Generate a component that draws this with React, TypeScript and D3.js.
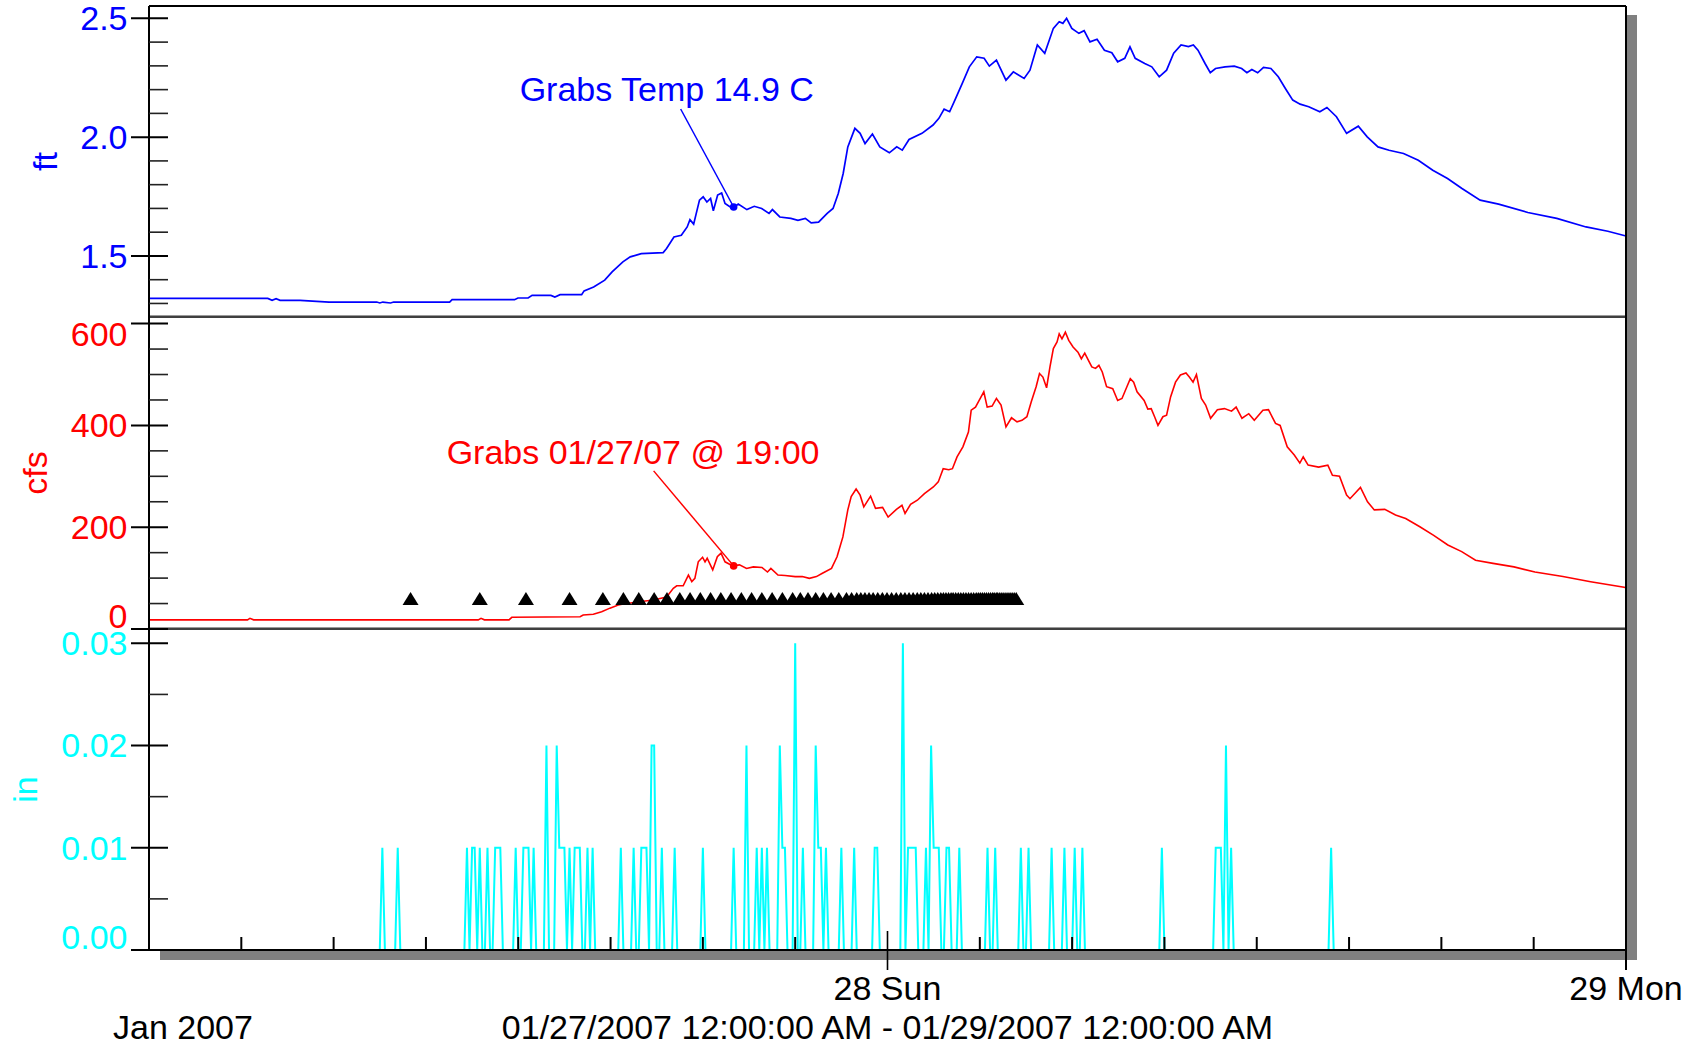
import React from 'react';
import * as d3 from 'd3';

const W = 1694, H = 1049;
const T0 = new Date(2007, 0, 27);
const T1 = new Date(2007, 0, 29);

// stage, hours after 01/27/2007 00:00
const stageHours = [0, 3.86, 4.0, 4.13, 4.26, 4.91, 5.85, 7.4, 7.5, 7.6, 7.85, 7.95, 9.77, 9.85, 11.88, 11.99, 12.32, 12.45, 13.06, 13.19, 13.36, 14.06, 14.14, 14.45, 14.81, 15.05, 15.4, 15.64, 16.0, 16.71, 16.82, 17.06, 17.3, 17.49, 17.58, 17.7, 17.89, 18.01, 18.13, 18.25, 18.34, 18.48, 18.61, 18.72, 18.96, 19.15, 19.43, 19.67, 19.91, 20.15, 20.26, 20.5, 20.86, 21.09, 21.33, 21.52, 21.76, 22.04, 22.23, 22.4, 22.56, 22.71, 22.94, 23.11, 23.27, 23.51, 23.75, 24.06, 24.3, 24.48, 24.7, 25.12, 25.48, 25.67, 25.84, 26.02, 26.19, 26.43, 26.66, 26.9, 27.14, 27.31, 27.54, 27.85, 28.09, 28.44, 28.63, 28.87, 29.11, 29.39, 29.58, 29.7, 29.82, 29.99, 30.22, 30.39, 30.58, 30.81, 31.05, 31.29, 31.48, 31.71, 31.88, 32.05, 32.36, 32.59, 32.83, 33.07, 33.3, 33.54, 33.78, 33.94, 34.09, 34.32, 34.49, 34.66, 34.97, 35.27, 35.51, 35.68, 35.84, 36.03, 36.22, 36.46, 36.7, 36.93, 37.17, 37.41, 37.69, 38.05, 38.28, 38.59, 38.92, 39.3, 39.59, 39.94, 40.3, 40.77, 41.25, 41.72, 42.2, 42.67, 43.26, 43.86, 44.81, 45.75, 46.7, 47.41, 48];
const stageFt = [1.321, 1.321, 1.313, 1.32, 1.313, 1.313, 1.306, 1.306, 1.302, 1.306, 1.302, 1.306, 1.306, 1.316, 1.316, 1.323, 1.323, 1.334, 1.334, 1.327, 1.337, 1.337, 1.353, 1.369, 1.398, 1.433, 1.475, 1.496, 1.51, 1.514, 1.531, 1.58, 1.587, 1.622, 1.653, 1.634, 1.735, 1.749, 1.727, 1.742, 1.69, 1.756, 1.765, 1.721, 1.7, 1.718, 1.695, 1.709, 1.7, 1.679, 1.695, 1.664, 1.658, 1.65, 1.658, 1.639, 1.642, 1.679, 1.7, 1.763, 1.847, 1.959, 2.037, 2.016, 1.973, 2.013, 1.959, 1.934, 1.959, 1.945, 1.99, 2.016, 2.051, 2.079, 2.118, 2.107, 2.156, 2.226, 2.296, 2.338, 2.332, 2.299, 2.324, 2.24, 2.275, 2.247, 2.282, 2.388, 2.353, 2.458, 2.486, 2.479, 2.5, 2.458, 2.437, 2.448, 2.401, 2.412, 2.366, 2.355, 2.317, 2.332, 2.38, 2.332, 2.31, 2.296, 2.254, 2.282, 2.353, 2.388, 2.381, 2.388, 2.366, 2.31, 2.271, 2.289, 2.296, 2.299, 2.289, 2.271, 2.285, 2.271, 2.294, 2.289, 2.254, 2.205, 2.156, 2.139, 2.128, 2.107, 2.125, 2.086, 2.016, 2.046, 2.001, 1.959, 1.945, 1.931, 1.903, 1.861, 1.826, 1.784, 1.735, 1.718, 1.683, 1.658, 1.622, 1.604, 1.584];

// discharge, hours after 01/27/2007 00:00
const flowHours = [0, 3.2, 3.28, 3.4, 10.7, 10.79, 10.9, 11.7, 11.79, 14.01, 14.11, 14.44, 14.71, 14.98, 15.25, 15.41, 16.0, 16.39, 16.82, 17.04, 17.15, 17.36, 17.53, 17.64, 17.74, 17.85, 17.99, 18.07, 18.14, 18.32, 18.47, 18.59, 18.72, 18.97, 19.19, 19.42, 19.64, 19.92, 20.1, 20.21, 20.44, 20.67, 21.0, 21.23, 21.46, 21.69, 21.87, 22.18, 22.36, 22.55, 22.71, 22.82, 22.98, 23.11, 23.23, 23.45, 23.61, 23.84, 24.02, 24.29, 24.47, 24.57, 24.75, 24.97, 25.2, 25.49, 25.65, 25.81, 25.99, 26.11, 26.26, 26.45, 26.63, 26.72, 26.86, 26.97, 27.13, 27.24, 27.4, 27.54, 27.69, 27.85, 28.03, 28.21, 28.37, 28.53, 28.67, 28.83, 28.94, 29.05, 29.17, 29.28, 29.39, 29.51, 29.58, 29.67, 29.78, 29.89, 30.03, 30.19, 30.3, 30.41, 30.53, 30.64, 30.76, 30.87, 30.98, 31.12, 31.32, 31.48, 31.62, 31.78, 31.89, 32.0, 32.11, 32.34, 32.46, 32.57, 32.68, 32.79, 32.95, 33.07, 33.2, 33.36, 33.52, 33.7, 33.81, 33.93, 34.04, 34.2, 34.34, 34.5, 34.72, 34.95, 35.18, 35.33, 35.52, 35.74, 35.92, 36.2, 36.38, 36.61, 36.76, 36.99, 37.22, 37.4, 37.51, 37.67, 38.01, 38.31, 38.46, 38.69, 38.92, 39.03, 39.37, 39.6, 39.82, 40.16, 40.51, 40.84, 41.3, 41.75, 42.21, 42.66, 43.11, 43.68, 44.36, 45.04, 45.95, 46.85, 47.94, 48];
const flowCfs = [18, 18, 21, 18, 18, 21, 18, 18, 23, 24, 27.5, 29, 34, 41, 47, 49, 54, 57, 63, 80, 85, 85, 106, 93, 99.5, 132, 141, 132, 139, 116, 142, 149, 132, 124, 126, 119, 122, 121, 112, 119, 106, 105, 103, 103, 99.5, 103, 109, 119, 142, 181, 234, 260, 275, 263, 240, 261, 237, 239, 220, 235, 243, 227, 245, 253, 266, 279, 289, 315, 313, 315, 338, 358, 387, 430, 436, 448, 466, 436, 438, 453, 440, 397, 415, 407, 410, 417, 446, 476, 502, 495, 474, 515, 551, 564, 580, 570, 583, 567, 554, 544, 531, 542, 528, 515, 512, 518, 505, 476, 472, 449, 453, 476, 492, 485, 466, 449, 432, 433, 417, 400, 417, 420, 456, 485, 499, 503, 495, 485, 500, 453, 440, 414, 431, 433, 428, 436, 414, 423, 410, 430, 431, 404, 400, 358, 342, 326, 338, 322, 318, 322, 302, 300, 263, 256, 278, 250, 234, 235, 224, 217, 201, 184, 165, 152, 135, 129, 122, 112, 103, 93, 82, 81];

// 5-minute rain readings that are not zero: minutes after start, inches
const rainMinutes = [455, 485, 620, 630, 635, 645, 660, 675, 680, 685, 715, 730, 735, 740, 750, 775, 795, 800, 805, 810, 820, 830, 835, 840, 855, 865, 920, 945, 960, 965, 970, 980, 985, 1000, 1025, 1080, 1140, 1165, 1185, 1195, 1205, 1230, 1235, 1240, 1260, 1275, 1300, 1305, 1310, 1320, 1350, 1375, 1415, 1420, 1470, 1480, 1485, 1490, 1495, 1515, 1525, 1530, 1535, 1540, 1555, 1560, 1580, 1635, 1650, 1700, 1715, 1760, 1785, 1805, 1820, 1975, 2080, 2085, 2090, 2100, 2110, 2305];
const rainInches = [0.01, 0.01, 0.01, 0.01, 0.01, 0.01, 0.01, 0.01, 0.01, 0.01, 0.01, 0.01, 0.01, 0.01, 0.01, 0.02, 0.02, 0.01, 0.01, 0.01, 0.01, 0.01, 0.01, 0.01, 0.01, 0.01, 0.01, 0.01, 0.01, 0.01, 0.01, 0.02, 0.02, 0.01, 0.01, 0.01, 0.01, 0.02, 0.01, 0.01, 0.01, 0.02, 0.01, 0.01, 0.03, 0.01, 0.02, 0.01, 0.01, 0.01, 0.01, 0.01, 0.01, 0.01, 0.03, 0.01, 0.01, 0.01, 0.01, 0.01, 0.02, 0.01, 0.01, 0.01, 0.01, 0.01, 0.01, 0.01, 0.01, 0.01, 0.01, 0.01, 0.01, 0.01, 0.01, 0.01, 0.01, 0.01, 0.01, 0.02, 0.01, 0.01];

// sampler grabs, minutes after start, drawn at a fixed flow level
const grabMinutes = [510, 645, 735, 820, 885, 925, 955, 985, 1010, 1035, 1055, 1075, 1095, 1115, 1135, 1155, 1175, 1195, 1215, 1235, 1255, 1270, 1285, 1300, 1315, 1330, 1345, 1360, 1370, 1380, 1388, 1396, 1404, 1412, 1421, 1430, 1439, 1448, 1457, 1466, 1474, 1482, 1490, 1498, 1505, 1512, 1519, 1526, 1532, 1538, 1544, 1549, 1554, 1559, 1564, 1568, 1573, 1578, 1583, 1588, 1593, 1598, 1603, 1608, 1613, 1617, 1621, 1625, 1629, 1633, 1637, 1641, 1645, 1648, 1652, 1655, 1659, 1663, 1667, 1671, 1675, 1679, 1683, 1687, 1691];
const grabLevel = 60;

const ftTicks = [1.5, 2.0, 2.5];
const ftMinor = [1.3, 1.4, 1.6, 1.7, 1.8, 1.9, 2.1, 2.2, 2.3, 2.4];
const cfsTicks = [0, 200, 400, 600];
const cfsMinor = [50, 100, 150, 250, 300, 350, 450, 500, 550];
const inTicks = [0, 0.01, 0.02, 0.03];
const inMinor = [0.005, 0.015, 0.025];

// annotation points (hours, value)
const tempNote = { hour: 19, ft: 1.706, text: 'Grabs Temp 14.9 C' };
const grabNote = { hour: 19, cfs: 124, text: 'Grabs 01/27/07 @ 19:00' };

const FONT = '"Liberation Sans", Arial, sans-serif';
const FS = 34;
const BLUE = '#0000ff', RED = '#ff0000', CYAN = '#00ffff';

const L = 149, R = 1626;
const TOP = 6, B1 = 317, B2 = 629, BOT = 950;

const atHours = (h: number) => new Date(T0.getTime() + h * 3600e3);
const atMinutes = (m: number) => new Date(T0.getTime() + m * 60e3);

export default function App() {
  const x = d3.scaleTime().domain([T0, T1]).range([L, R]);
  const yFt = d3.scaleLinear().domain([1.243, 2.552]).range([B1, TOP]);
  const yCfs = d3.scaleLinear().domain([0, 613]).range([B2, B1]);
  const yIn = d3.scaleLinear().domain([0, 0.0314]).range([BOT, B2]);

  const stage = stageHours.map((h, i) => [atHours(h), stageFt[i]] as [Date, number]);
  const flow = flowHours.map((h, i) => [atHours(h), flowCfs[i]] as [Date, number]);
  const rain = d3.range(0, 2881, 5).map(m => {
    const i = rainMinutes.indexOf(m);
    return [atMinutes(m), i >= 0 ? rainInches[i] : 0] as [Date, number];
  });

  const lineFt = d3.line<[Date, number]>().x(d => x(d[0])).y(d => yFt(d[1]));
  const lineCfs = d3.line<[Date, number]>().x(d => x(d[0])).y(d => yCfs(d[1]));
  const lineIn = d3.line<[Date, number]>().x(d => x(d[0])).y(d => yIn(d[1]));

  // keep the value labels inside their panel
  const labelBase = (ty: number, top: number, bottom: number) => {
    let c = ty;
    if (c - 12 < top - 1) c = top + 17;
    if (c + 12 > bottom) c = bottom - 13;
    return c + 0.35 * FS;
  };

  const yAxis = (scale: d3.ScaleLinear<number, number>, major: number[], minor: number[],
                 fmt: (v: number) => string, color: string, top: number, bottom: number, key: string) => (
    <g key={key}>
      {minor.map(v => (
        <line key={'m' + v} x1={L} x2={L + 19} y1={scale(v)} y2={scale(v)} stroke="#222" strokeWidth={1.6} />
      ))}
      {major.map(v => (
        <g key={'M' + v}>
          <line x1={L - 18} x2={L + 19} y1={scale(v)} y2={scale(v)} stroke="#000" strokeWidth={2} />
          <text x={127.5} y={labelBase(scale(v), top, bottom)} textAnchor="end" fill={color}
                fontFamily={FONT} fontSize={FS}>{fmt(v)}</text>
        </g>
      ))}
    </g>
  );

  const minorX = d3.timeHour.every(3)!.range(atHours(3), T1).filter(d => d.getHours() !== 0);
  const dayTicks = d3.timeDay.range(atHours(1), atHours(49));
  const dayFmt = d3.timeFormat('%-d %a');
  const rangeFmt = d3.timeFormat('%m/%d/%Y %I:%M:%S %p');

  const tri = (cx: number, cy: number) => `M${cx},${cy - 6.5}L${cx + 8},${cy + 6.5}L${cx - 8},${cy + 6.5}Z`;

  const tx = x(atHours(tempNote.hour)), ty = yFt(tempNote.ft);
  const gx = x(atHours(grabNote.hour)), gy = yCfs(grabNote.cfs);

  return (
    <svg width={W} height={H} viewBox={`0 0 ${W} ${H}`}
         style={{ position: 'absolute', left: 0, top: 0, display: 'block', background: '#fff' }}>
      <rect x={0} y={0} width={W} height={H} fill="#fff" />
      {/* drop shadow */}
      <rect x={R + 1} y={15} width={10} height={BOT + 10 - 15} fill="#808080" />
      <rect x={160} y={BOT + 1} width={R + 11 - 160} height={9} fill="#808080" />
      <rect x={L} y={TOP} width={R - L} height={BOT - TOP} fill="#fff" />

      {/* series */}
      <path d={lineFt(stage)!} fill="none" stroke={BLUE} strokeWidth={1.7} />
      <path d={lineCfs(flow)!} fill="none" stroke={RED} strokeWidth={1.6} />
      <path d={lineIn(rain)!} fill="none" stroke={CYAN} strokeWidth={2} />
      <g fill="#000">
        {grabMinutes.map(m => <path key={m} d={tri(x(atMinutes(m)), yCfs(grabLevel))} />)}
      </g>

      {/* panel dividers */}
      {[B1, B2].map(b => (
        <g key={b}>
          <line x1={L} x2={R} y1={b - 1.5} y2={b - 1.5} stroke="#9a9a9a" strokeWidth={1} />
          <line x1={L} x2={R} y1={b} y2={b} stroke="#000" strokeWidth={1.5} />
        </g>
      ))}

      {/* frame */}
      <line x1={L} x2={R} y1={TOP} y2={TOP} stroke="#000" strokeWidth={2} />
      <line x1={R} x2={R} y1={TOP} y2={970} stroke="#000" strokeWidth={2} />
      <line x1={L} x2={L} y1={TOP} y2={BOT} stroke="#000" strokeWidth={2} />
      <line x1={L - 1} x2={R + 1} y1={BOT} y2={BOT} stroke="#000" strokeWidth={2.2} />

      {yAxis(yFt, ftTicks, ftMinor, d3.format('.1f'), BLUE, TOP, B1, 'ft')}
      {yAxis(yCfs, cfsTicks, cfsMinor, d3.format('d'), RED, B1, B2, 'cfs')}
      {yAxis(yIn, inTicks, inMinor, d3.format('.2f'), CYAN, B2, BOT, 'in')}

      {/* axis titles */}
      <text transform={`translate(57,${(TOP + B1) / 2}) rotate(-90)`} textAnchor="middle" fill={BLUE}
            fontFamily={FONT} fontSize={FS}>ft</text>
      <text transform={`translate(47,${(B1 + B2) / 2}) rotate(-90)`} textAnchor="middle" fill={RED}
            fontFamily={FONT} fontSize={FS}>cfs</text>
      <text transform={`translate(37,${(B2 + BOT) / 2}) rotate(-90)`} textAnchor="middle" fill={CYAN}
            fontFamily={FONT} fontSize={FS}>in</text>

      {/* time axis */}
      {minorX.map(d => (
        <line key={+d} x1={x(d)} x2={x(d)} y1={BOT} y2={BOT - 13} stroke="#000" strokeWidth={2} />
      ))}
      {dayTicks.map(d => (
        <g key={+d}>
          <line x1={x(d)} x2={x(d)} y1={+d === +T1 ? BOT : 931} y2={970} stroke="#000" strokeWidth={1.6} />
          <text x={x(d)} y={1000} textAnchor="middle" fill="#000" fontFamily={FONT} fontSize={FS}>{dayFmt(d)}</text>
        </g>
      ))}
      <text x={113} y={1039} fill="#000" fontFamily={FONT} fontSize={FS}>{d3.timeFormat('%b %Y')(T0)}</text>
      <text x={(L + R) / 2} y={1039} textAnchor="middle" fill="#000" fontFamily={FONT} fontSize={FS}>
        {`${rangeFmt(T0)} - ${rangeFmt(T1)}`}
      </text>

      {/* annotations */}
      <line x1={tx - 53} y1={ty - 98} x2={tx} y2={ty} stroke={BLUE} strokeWidth={1.5} />
      <circle cx={tx} cy={ty} r={3.8} fill={BLUE} />
      <text x={tx - 214} y={ty - 106} fill={BLUE} fontFamily={FONT} fontSize={FS}>{tempNote.text}</text>

      <line x1={gx - 80} y1={gy - 95} x2={gx} y2={gy} stroke={RED} strokeWidth={1.5} />
      <circle cx={gx} cy={gy} r={3.8} fill={RED} />
      <text x={gx - 287} y={gy - 102} fill={RED} fontFamily={FONT} fontSize={FS}>{grabNote.text}</text>
    </svg>
  );
}
